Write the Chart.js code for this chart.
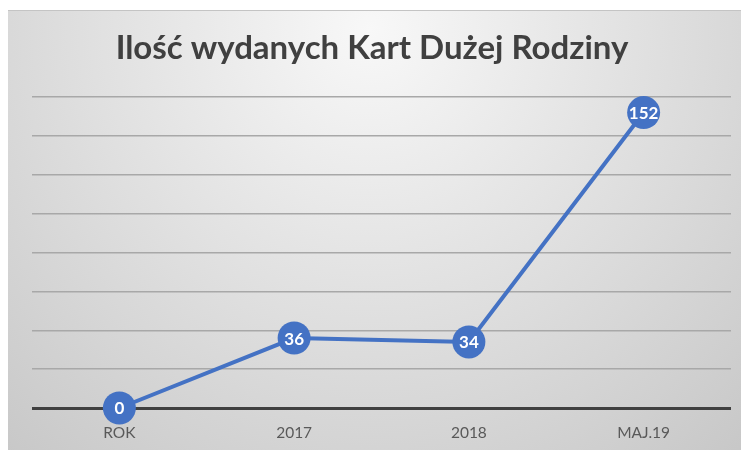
<!DOCTYPE html>
<html>
<head>
<meta charset="utf-8">
<script src="https://cdn.jsdelivr.net/npm/chart.js@4"></script>
<style>
  html, body { margin: 0; padding: 0; background: #fff; }
  #wrap { width: 741px; height: 450px; position: relative; }
</style>
</head>
<body>
<div id="wrap"><canvas id="myChart" width="741" height="450"></canvas></div>
<script>
/* Datos */
const categorias = ['ROK', '2017', '2018', 'MAJ.19'];
const valores = [0, 36, 34, 152];
const titulo = 'Ilość wydanych Kart Dużej Rodziny';

const azul = '#4472C4';

/* Fondo gris degradado + titulo centrado en el panel */
const fondo = {
    id: 'fondo',
    beforeDraw(chart) {
        const c = chart.ctx;
        c.save();
        c.fillStyle = '#ffffff';
        c.fillRect(0, 0, chart.width, chart.height);
        const g = c.createRadialGradient(370, 30, 0, 370, 30, 580);
        g.addColorStop(0, '#f8f8f8');
        g.addColorStop(1, '#c6c6c6');
        c.fillStyle = g;
        c.fillRect(8, 10, chart.width - 8, chart.height - 10);
        c.fillStyle = '#c4c4c4';
        c.fillRect(8, 10, chart.width - 8, 1);
        // titulo
        c.fillStyle = '#404040';
        c.font = 'bold 33px Lato';
        c.textAlign = 'center';
        c.textBaseline = 'middle';
        c.fillText(titulo, 372, 48);
        c.restore();
    }
};

/* Etiquetas dentro de los puntos */
const etiquetas = {
    id: 'etiquetas',
    afterDatasetsDraw(chart) {
        const c = chart.ctx;
        const meta = chart.getDatasetMeta(0);
        c.save();
        c.fillStyle = '#ffffff';
        c.font = 'bold 17px Lato';
        c.textAlign = 'center';
        c.textBaseline = 'middle';
        meta.data.forEach((p, i) => {
            c.fillText(String(valores[i]), p.x, p.y + 1);
        });
        c.restore();
    }
};

const config = {
    type: 'line',
    data: {
        labels: categorias,
        datasets: [{
            data: valores,
            borderColor: azul,
            borderWidth: 4,
            backgroundColor: azul,
            pointRadius: 16.5,
            pointHoverRadius: 16.5,
            pointBackgroundColor: azul,
            pointBorderWidth: 0,
            tension: 0,
            clip: false
        }]
    },
    options: {
        responsive: false,
        animation: false,
        layout: { autoPadding: false, padding: { left: 32, right: 10, top: 97, bottom: 0 } },
        plugins: {
            legend: { display: false },
            tooltip: { enabled: false },
            title: { display: false }
        },
        scales: {
            x: {
                offset: true,
                grid: { display: false, drawTicks: false },
                border: { display: false },
                ticks: {
                    color: '#595959',
                    font: { family: 'Lato', size: 15.5 },
                    padding: 16
                },
                afterFit(scale) { scale.height = 42; }
            },
            y: {
                min: 0,
                max: 160,
                ticks: { stepSize: 20, display: false },
                border: { display: false },
                grid: {
                    drawTicks: false,
                    color: (ctx) => ctx.tick && ctx.tick.value === 0 ? '#404040' : '#a8a8a8',
                    lineWidth: (ctx) => ctx.tick && ctx.tick.value === 0 ? 3 : 1.5
                },
                afterFit(scale) { scale.width = 0; }
            }
        }
    },
    plugins: [fondo, etiquetas]
};

const myChart = new Chart(document.getElementById('myChart'), config);
</script>
</body>
</html>
